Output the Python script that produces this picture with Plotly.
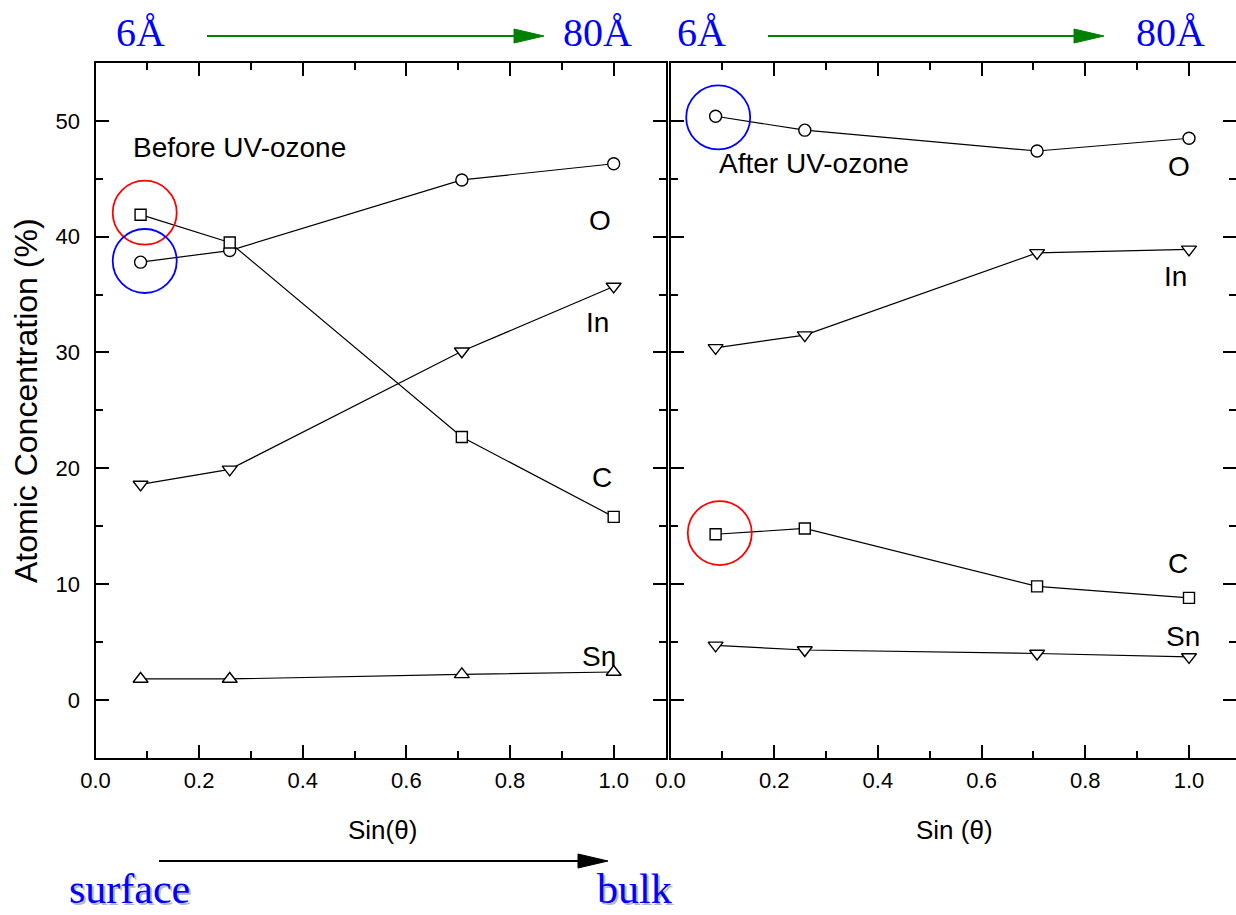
import plotly.graph_objects as go

W, H = 1236, 915

# ---- data ----
sin_theta = [0.087, 0.259, 0.707, 1.0]
before_O = [37.8, 38.8, 44.9, 46.3]
before_C = [41.9, 39.5, 22.7, 15.8]
before_In = [18.6, 19.9, 30.1, 35.7]
before_Sn = [1.8, 1.8, 2.2, 2.4]
after_O = [50.4, 49.2, 47.4, 48.5]
after_In = [30.4, 31.5, 38.6, 38.9]
after_C = [14.3, 14.8, 9.8, 8.8]
after_Sn = [4.7, 4.3, 4.0, 3.7]

x_ticks = [0.0, 0.2, 0.4, 0.6, 0.8, 1.0]
x_tick_labels = ["0.0", "0.2", "0.4", "0.6", "0.8", "1.0"]
y_ticks = [0, 10, 20, 30, 40, 50]
y_tick_labels = ["0", "10", "20", "30", "40", "50"]

def px(x):
    return x / W

def py(y):
    return 1 - y / H

fig = go.Figure()

line_style = dict(color="black", width=1.2)

def add_series(xa, ya, yvals, symbol, size):
    fig.add_trace(go.Scatter(
        x=sin_theta, y=yvals, xaxis=xa, yaxis=ya, mode="lines+markers",
        line=line_style,
        marker=dict(symbol=symbol, size=size, color="white",
                    line=dict(color="black", width=1.4)),
        showlegend=False, hoverinfo="skip"))

add_series("x", "y", before_O, "circle", 12)
add_series("x", "y", before_C, "square", 11)
add_series("x", "y", before_In, "triangle-down", 13)
add_series("x", "y", before_Sn, "triangle-up", 13)
add_series("x2", "y2", after_O, "circle", 12)
add_series("x2", "y2", after_C, "square", 11)
add_series("x2", "y2", after_In, "triangle-down", 13)
add_series("x2", "y2", after_Sn, "triangle-down", 13)

tick_font = dict(family="Liberation Sans, Arial", size=22, color="black")
y_dom = [py(757.7), py(63)]

common_x = dict(range=[0, 1.1], tickvals=x_ticks, ticktext=x_tick_labels,
                ticks="inside", ticklen=13, tickwidth=2, tickcolor="black",
                showline=True, linewidth=2, linecolor="black", mirror="ticks",
                showgrid=False, zeroline=False, tickfont=tick_font,
                ticklabelstandoff=2, automargin=False,
                minor=dict(dtick=0.1, tick0=0, ticks="inside", ticklen=7,
                           tickwidth=2, tickcolor="black", showgrid=False))
common_y = dict(range=[-5, 55], tickvals=y_ticks, ticktext=y_tick_labels,
                ticks="inside", ticklen=13, tickwidth=2, tickcolor="black",
                showline=True, linewidth=2, linecolor="black", mirror="ticks",
                showgrid=False, zeroline=False, tickfont=tick_font,
                ticklabelstandoff=9, automargin=False,
                minor=dict(dtick=5, tick0=0, ticks="inside", ticklen=7,
                           tickwidth=2, tickcolor="black", showgrid=False))

right_end = (W - 670.5) / 518.5

fig.update_layout(
    width=W, height=H,
    margin=dict(l=0, r=0, t=0, b=0, autoexpand=False),
    paper_bgcolor="white", plot_bgcolor="white",
    xaxis=dict(common_x, domain=[px(95.5), px(665.5)], anchor="y"),
    yaxis=dict(common_y, domain=y_dom, anchor="x"),
    xaxis2=dict(common_x, domain=[px(670.5), 1.0], anchor="y2",
                range=[0, right_end]),
    yaxis2=dict(common_y, domain=y_dom, anchor="x2", showticklabels=False),
)

lab_font = dict(family="Liberation Sans, Arial", size=28, color="black")
ann = []
def txt(x, y, s, xref="x", yref="y", xanchor="center", font=lab_font, angle=0,
        yanchor="middle"):
    ann.append(dict(x=x, y=y, text=s, xref=xref, yref=yref, showarrow=False,
                    xanchor=xanchor, yanchor=yanchor, font=font, textangle=angle,
                    borderpad=0))

# panel labels
txt(0.071, 47.7, "Before UV-ozone", xanchor="left")
txt(0.973, 41.4, "O")
txt(0.969, 32.6, "In")
txt(0.977, 19.2, "C")
txt(0.971, 3.7, "Sn")
txt(0.0916, 46.3, "After UV-ozone", "x2", "y2", xanchor="left")
txt(0.981, 46.1, "O", "x2", "y2")
txt(0.973, 36.55, "In", "x2", "y2")
txt(0.979, 11.8, "C", "x2", "y2")
txt(0.988, 5.43, "Sn", "x2", "y2")

title_font = dict(family="Liberation Sans, Arial", size=26, color="black")
txt(px(382), py(830), "Sin(θ)", "paper", "paper", font=title_font)
txt(px(955), py(830), "Sin (θ)", "paper", "paper", font=title_font)
txt(px(26), py(401), "Atomic Concentration (%)", "paper", "paper",
    font=dict(family="Liberation Sans, Arial", size=32, color="black"), angle=-90)

blue_font = dict(family="Liberation Serif, Times New Roman", size=40, color="#0000ff")
big_blue = dict(family="Liberation Serif, Times New Roman", size=42, color="#0000ff")
shadow_font = dict(family="Liberation Serif, Times New Roman", size=42, color="#b8b8b8")
txt(px(140), py(33), "6Å", "paper", "paper", font=blue_font)
txt(px(597), py(33), "80Å", "paper", "paper", font=blue_font)
txt(px(701), py(33), "6Å", "paper", "paper", font=blue_font)
txt(px(1170), py(33), "80Å", "paper", "paper", font=blue_font)
txt(px(131), py(915), "surface", "paper", "paper", font=shadow_font, yanchor="bottom")
txt(px(636), py(915), "bulk", "paper", "paper", font=shadow_font, yanchor="bottom")
txt(px(129), py(913), "surface", "paper", "paper", font=big_blue, yanchor="bottom")
txt(px(634), py(913), "bulk", "paper", "paper", font=big_blue, yanchor="bottom")

shapes = []
def arrow(x0, x1, y, color, head=30, half=7, width=2):
    shapes.append(dict(type="line", xref="paper", yref="paper",
                       x0=px(x0), x1=px(x1 - head + 2), y0=py(y), y1=py(y),
                       line=dict(color=color, width=width)))
    path = "M {} {} L {} {} L {} {} Z".format(px(x1 - head), py(y - half), px(x1), py(y),
                                              px(x1 - head), py(y + half))
    shapes.append(dict(type="path", xref="paper", yref="paper", path=path,
                       fillcolor=color, line=dict(color=color, width=1)))

arrow(207, 544, 36, "#008000")
arrow(768, 1104, 36, "#008000")
arrow(159, 608, 861, "black", head=30, half=7)

# highlight circles (centre in data units, radius in pixels)
circle_specs = [
    ("x", "y", 0.095, 42.07, "#ff0000"),
    ("x", "y", 0.095, 37.9, "#0000ff"),
    ("x2", "y2", 0.092, 50.3, "#0000ff"),
    ("x2", "y2", 0.095, 14.4, "#ff0000"),
]
for xr, yr, cx, cy, col in circle_specs:
    shapes.append(dict(type="circle", xref=xr, yref=yr,
                       xsizemode="pixel", ysizemode="pixel",
                       xanchor=cx, yanchor=cy, x0=-32, x1=32, y0=-32, y1=32,
                       line=dict(color=col, width=1.8), fillcolor="rgba(0,0,0,0)"))

fig.update_layout(annotations=ann, shapes=shapes)
fig.write_html("out.html")
